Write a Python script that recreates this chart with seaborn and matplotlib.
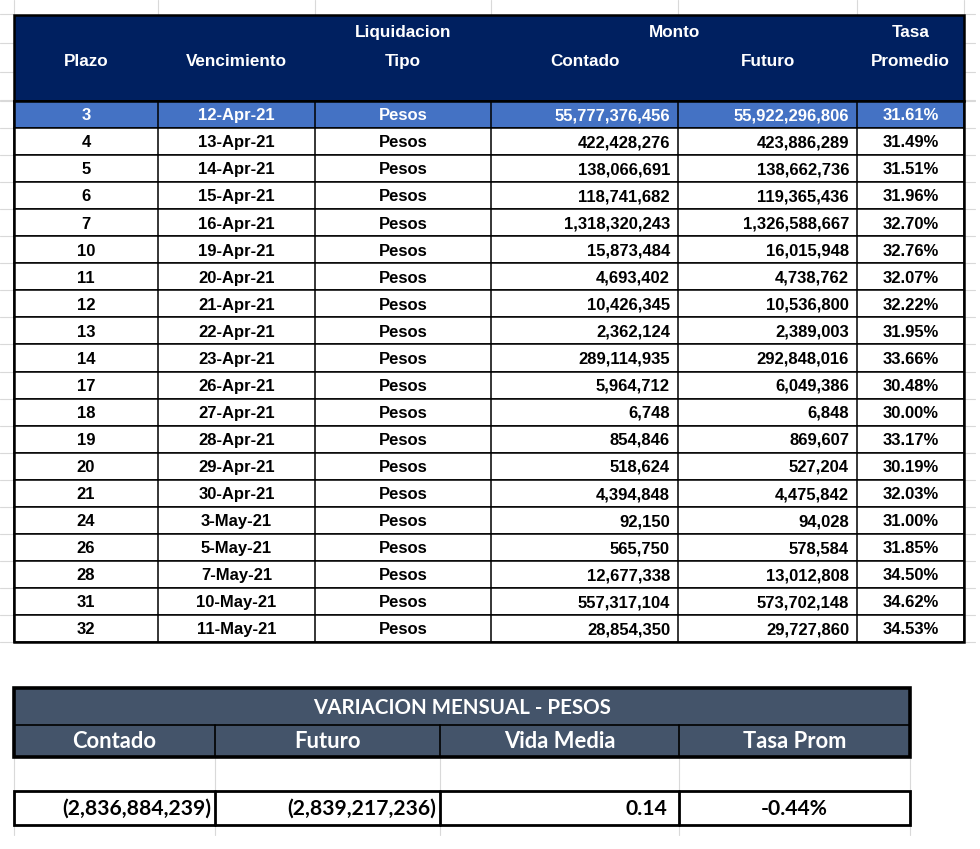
import matplotlib
matplotlib.use("Agg")
import matplotlib.pyplot as plt
import seaborn as sns
from matplotlib.patches import Rectangle
from matplotlib import font_manager

# Datos de la tabla principal
plazo = [3, 4, 5, 6, 7, 10, 11, 12, 13, 14, 17, 18, 19, 20, 21, 24, 26, 28, 31, 32]
vencimiento = ["12-Apr-21", "13-Apr-21", "14-Apr-21", "15-Apr-21", "16-Apr-21",
               "19-Apr-21", "20-Apr-21", "21-Apr-21", "22-Apr-21", "23-Apr-21",
               "26-Apr-21", "27-Apr-21", "28-Apr-21", "29-Apr-21", "30-Apr-21",
               "3-May-21", "5-May-21", "7-May-21", "10-May-21", "11-May-21"]
tipo = ["Pesos"] * 20
contado = [55777376456, 422428276, 138066691, 118741682, 1318320243, 15873484,
           4693402, 10426345, 2362124, 289114935, 5964712, 6748, 854846, 518624,
           4394848, 92150, 565750, 12677338, 557317104, 28854350]
futuro = [55922296806, 423886289, 138662736, 119365436, 1326588667, 16015948,
          4738762, 10536800, 2389003, 292848016, 6049386, 6848, 869607, 527204,
          4475842, 94028, 578584, 13012808, 573702148, 29727860]
tasa = [31.61, 31.49, 31.51, 31.96, 32.70, 32.76, 32.07, 32.22, 31.95, 33.66,
        30.48, 30.00, 33.17, 30.19, 32.03, 31.00, 31.85, 34.50, 34.62, 34.53]

# Variacion mensual
var_titulo = "VARIACION MENSUAL - PESOS"
var_columnas = ["Contado", "Futuro", "Vida Media", "Tasa Prom"]
var_contado = -2836884239
var_futuro = -2839217236
var_vida_media = 0.14
var_tasa = -0.44

NAVY = "#002060"
HILITE = "#4472C4"
SLATE = "#44546A"
GRID = "#d9d9d9"

sns.set_theme(style="white")
disponibles = {f.name for f in font_manager.fontManager.ttflist}
main_font = "Liberation Sans" if "Liberation Sans" in disponibles else "DejaVu Sans"
alt_font = "Lato" if "Lato" in disponibles else main_font
plt.rcParams["font.family"] = [main_font, "DejaVu Sans"]

fig = plt.figure(figsize=(9.8, 8.49), dpi=100)
ax = fig.add_axes([0, 0, 1, 1])
ax.set_xlim(0, 980)
ax.set_ylim(849, 0)
ax.axis("off")


def fmt_num(v):
    return f"({abs(v):,})" if v < 0 else f"{v:,}"


# ---- fondo tipo hoja de calculo ----
cols = [14, 158, 315, 491, 678, 857, 964]
top, head_bot, row_h = 15, 101, 27.05
n = len(plazo)
body_bot = head_bot + n * row_h
for x in cols:
    ax.plot([x, x], [0, top], color=GRID, lw=0.8, zorder=0)
for y in [14, 43, 72, 100] + [head_bot + i * row_h for i in range(n + 1)]:
    ax.plot([0, 14], [y, y], color=GRID, lw=0.8, zorder=0)
    ax.plot([964, 975], [y, y], color=GRID, lw=0.8, zorder=0)

# ---- encabezado ----
ax.add_patch(Rectangle((cols[0], top), cols[-1] - cols[0], head_bot - top,
                       facecolor=NAVY, edgecolor="black", lw=1.8, zorder=2))
hkw = dict(color="white", fontsize=12.3, fontweight="bold", ha="center", va="center", zorder=5)
ax.text((cols[0] + cols[1]) / 2, 61, "Plazo", **hkw)
ax.text((cols[1] + cols[2]) / 2, 61, "Vencimiento", **hkw)
ax.text((cols[2] + cols[3]) / 2, 32, "Liquidacion", **hkw)
ax.text((cols[2] + cols[3]) / 2, 61, "Tipo", **hkw)
ax.text((cols[3] + cols[5]) / 2, 32, "Monto", **hkw)
ax.text((cols[3] + cols[4]) / 2, 61, "Contado", **hkw)
ax.text((cols[4] + cols[5]) / 2, 61, "Futuro", **hkw)
ax.text((cols[5] + cols[6]) / 2, 32, "Tasa", **hkw)
ax.text((cols[5] + cols[6]) / 2, 61, "Promedio", **hkw)

# ---- cuerpo ----
for i in range(n):
    y0 = head_bot + i * row_h
    yc = y0 + row_h / 2 + 1.3
    bg = HILITE if i == 0 else "white"
    fg = "white" if i == 0 else "black"
    ax.add_patch(Rectangle((cols[0], y0), cols[-1] - cols[0], row_h,
                           facecolor=bg, edgecolor="black", lw=1.1, zorder=2))
    kw = dict(color=fg, fontsize=12, fontweight="bold", va="center", zorder=5)
    ax.text((cols[0] + cols[1]) / 2, yc, str(plazo[i]), ha="center", **kw)
    ax.text((cols[1] + cols[2]) / 2, yc, vencimiento[i], ha="center", **kw)
    ax.text((cols[2] + cols[3]) / 2, yc, tipo[i], ha="center", **kw)
    ax.text(cols[4] - 8, yc, fmt_num(contado[i]), ha="right", **kw)
    ax.text(cols[5] - 8, yc, fmt_num(futuro[i]), ha="right", **kw)
    ax.text((cols[5] + cols[6]) / 2, yc, f"{tasa[i]:.2f}%", ha="center", **kw)
for x in cols[1:-1]:
    ax.plot([x, x], [head_bot, body_bot], color="black", lw=1.1, zorder=3)
ax.add_patch(Rectangle((cols[0], head_bot), cols[-1] - cols[0], body_bot - head_bot,
                       facecolor="none", edgecolor="black", lw=1.8, zorder=4))

# ---- tabla variacion mensual ----
bcols = [14, 215, 440, 679, 910]
bt, bh, bb = 688, 725, 757
vr0, vr1 = 791, 825
for x in bcols:
    ax.plot([x, x], [bb, vr0], color=GRID, lw=0.8, zorder=0)
    ax.plot([x, x], [vr1, 835], color=GRID, lw=0.8, zorder=0)
ax.add_patch(Rectangle((bcols[0], bt), bcols[-1] - bcols[0], bb - bt,
                       facecolor=SLATE, edgecolor="none", zorder=2))
ax.plot([bcols[0], bcols[-1]], [bh, bh], color="black", lw=1.2, zorder=3)
for x in bcols[1:-1]:
    ax.plot([x, x], [bh, bb], color="black", lw=1.2, zorder=3)
ax.add_patch(Rectangle((bcols[0], bt), bcols[-1] - bcols[0], bb - bt,
                       facecolor="none", edgecolor="black", lw=2.6, zorder=4))
bkw = dict(family=[alt_font, "DejaVu Sans"], fontweight="bold", va="center", zorder=5)
ax.text((bcols[0] + bcols[-1]) / 2, (bt + bh) / 2 + 1, var_titulo,
        color="white", fontsize=14.8, ha="center", **bkw)
for j, name in enumerate(var_columnas):
    ax.text((bcols[j] + bcols[j + 1]) / 2, (bh + bb) / 2 + 1, name,
            color="white", fontsize=15.8, ha="center", **bkw)

ax.add_patch(Rectangle((bcols[0], vr0), bcols[-1] - bcols[0], vr1 - vr0,
                       facecolor="white", edgecolor="black", lw=2.0, zorder=2))
for x in bcols[1:-1]:
    ax.plot([x, x], [vr0, vr1], color="black", lw=2.0, zorder=3)
yv = (vr0 + vr1) / 2 + 1
ax.text(bcols[1] - 4, yv, fmt_num(var_contado), color="black", fontsize=15.2, ha="right", **bkw)
ax.text(bcols[2] - 4, yv, fmt_num(var_futuro), color="black", fontsize=15.2, ha="right", **bkw)
ax.text(bcols[3] - 12, yv, f"{var_vida_media:.2f}", color="black", fontsize=15.2, ha="right", **bkw)
ax.text((bcols[3] + bcols[4]) / 2, yv, f"{var_tasa:.2f}%", color="black", fontsize=15.2, ha="center", **bkw)

fig.savefig("out.png", dpi=100, facecolor="white")
